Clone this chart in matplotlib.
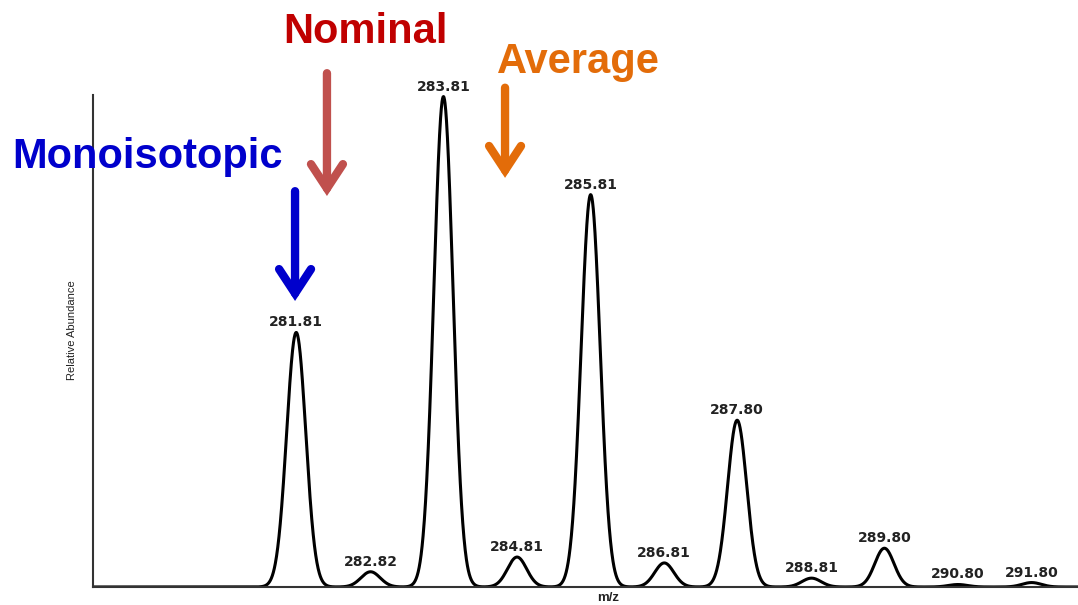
import numpy as np
import matplotlib.pyplot as plt
from matplotlib.patches import FancyArrowPatch

# peak centres (m/z) and relative heights
peak_mz = [281.81, 282.82, 283.81, 284.81, 285.81, 286.81, 287.80, 288.81, 289.80, 290.80, 291.80]
peak_height = [51.9, 3.1, 100.0, 6.1, 80.0, 4.9, 34.0, 1.8, 7.9, 0.5, 0.9]
peak_labels = ["281.81", "282.82", "283.81", "284.81", "285.81", "286.81",
               "287.80", "288.81", "289.80", "290.80", "291.80"]

sigma = 0.13  # peak width (m/z)
x = np.linspace(279.05, 292.43, 4000)
y = np.zeros_like(x)
for c, h in zip(peak_mz, peak_height):
    y += h * np.exp(-(x - c) ** 2 / (2 * sigma ** 2))

fig = plt.figure(figsize=(10.78, 6.05), dpi=100)
ax = fig.add_axes([0.0863, 0.0298, 0.9137, 0.813])
ax.plot(x, y, color="black", lw=2.2)
ax.set_xlim(279.05, 292.43)
ax.set_ylim(0, 100.3)
ax.set_xticks([])
ax.set_yticks([])
for s in ["top", "right"]:
    ax.spines[s].set_visible(False)
for s in ["left", "bottom"]:
    ax.spines[s].set_color("#333333")
    ax.spines[s].set_linewidth(1.5)

# peak labels
for c, h, lab in zip(peak_mz, peak_height, peak_labels):
    ax.annotate(lab, (c, h), xytext=(0, 2.2), textcoords="offset points",
                ha="center", va="bottom", fontsize=10, fontweight="bold",
                family="DejaVu Sans", color="#222222", annotation_clip=False)

fig.text(0.067, 0.455, "Relative Abundance", rotation=90, ha="center", va="center",
         fontsize=8, family="Liberation Sans", color="#222222")
fig.text(0.564, 0.001, "m/z", ha="center", va="bottom", fontsize=9.5,
         family="Liberation Sans", fontweight="bold", color="#222222")

# annotations
big = dict(fontsize=30, fontweight="bold", family="Liberation Sans")
fig.text(0.011, 0.740, "Monoisotopic", color="#0000CC", ha="left", va="center", **big)
fig.text(0.263, 0.947, "Nominal", color="#C00000", ha="left", va="center", **big)
fig.text(0.461, 0.898, "Average", color="#E36C09", ha="left", va="center", **big)

arrows = [
    ((0.2737, 0.5025), (0.2737, 0.684), "#0000CC"),
    ((0.3033, 0.676), (0.3033, 0.879), "#C0504D"),
    ((0.4685, 0.706), (0.4685, 0.855), "#E36C09"),
]
for tip, tail, col in arrows:
    fig.add_artist(FancyArrowPatch(
        tail, tip, transform=fig.transFigure, mutation_scale=10,
        arrowstyle="->,head_length=1.75,head_width=1.15", color=col, lw=6.0,
        shrinkA=0, shrinkB=0, joinstyle="miter", capstyle="round"))

fig.savefig("out.png", dpi=100)
